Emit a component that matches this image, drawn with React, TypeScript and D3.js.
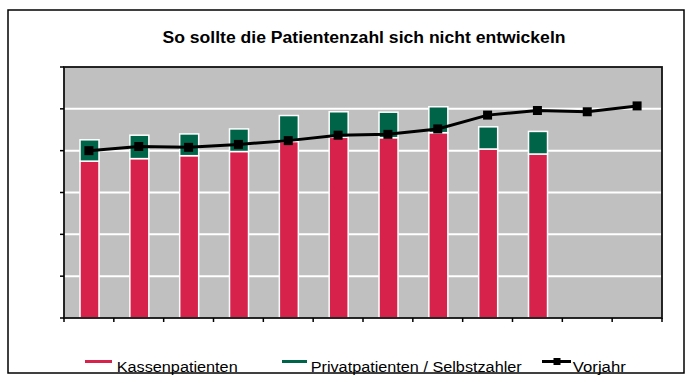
import React from "react";
import * as d3 from "d3";

const months = ["Jan", "Feb", "Mär", "Apr", "Mai", "Jun", "Jul", "Aug", "Sep", "Okt", "Nov", "Dez"];
const kassenpatienten = [375, 381, 388, 398, 422, 432, 431, 443, 404, 392];
const privatpatienten = [51, 56, 52, 54, 62, 61, 61, 62, 53, 54];
const vorjahr = [400, 410, 408, 415, 424, 437, 439, 452, 485, 496, 493, 507];
const yTicks = [0, 100, 200, 300, 400, 500, 600];

const title = "So sollte die Patientenzahl sich nicht entwickeln";
const legendLabels = ["Kassenpatienten", "Privatpatienten / Selbstzahler", "Vorjahr"];

const RED = "#D7234C";
const GREEN = "#006449";
const GRAY = "#C0C0C0";

export default function App() {
  const W = 700;
  const H = 383;
  const plot = { left: 64, right: 662, top: 67, bottom: 318 };

  const x = d3.scaleBand<string>().domain(months).range([plot.left, plot.right]).padding(0);
  const y = d3.scaleLinear().domain([0, 600]).range([plot.bottom, plot.top]);
  const barW = 19;
  const cx = (i: number) => (x(months[i]) as number) + x.bandwidth() / 2;

  const line = d3
    .line<number>()
    .x((_, i) => cx(i))
    .y((d) => y(d));

  const font = "'Liberation Sans', Arial, sans-serif";
  const boundaries = d3.range(months.length + 1).map((i) => plot.left + i * x.step());

  return (
    <svg
      width={W}
      height={H}
      style={{ position: "absolute", left: 0, top: 0, background: "#fff" }}
      fontFamily={font}
    >
      <rect x={0} y={0} width={W} height={H} fill="#fff" />
      {/* outer frame */}
      <rect x={8} y={10} width={676} height={363} fill="none" stroke="#000" strokeWidth={1.5} />

      {/* title */}
      <text
        x={364}
        y={42.7}
        textAnchor="middle"
        fontSize={16}
        fontWeight="bold"
        textLength={403}
        lengthAdjust="spacingAndGlyphs"
        fill="#000"
      >
        {title}
      </text>

      {/* plot area */}
      <rect
        x={plot.left}
        y={plot.top}
        width={plot.right - plot.left}
        height={plot.bottom - plot.top}
        fill={GRAY}
      />
      {yTicks.slice(1, -1).map((t) => (
        <line
          key={"g" + t}
          x1={plot.left}
          x2={plot.right}
          y1={y(t)}
          y2={y(t)}
          stroke="#fff"
          strokeWidth={2}
        />
      ))}

      {/* bars */}
      {kassenpatienten.map((k, i) => {
        const p = privatpatienten[i];
        const bx = cx(i) - barW / 2 + 0.6;
        return (
          <g key={"b" + i}>
            <rect
              x={bx}
              y={y(k)}
              width={barW}
              height={y(0) - y(k)}
              fill={RED}
              stroke="#fff"
              strokeWidth={1.5}
            />
            <rect
              x={bx}
              y={y(k + p)}
              width={barW}
              height={y(k) - y(k + p)}
              fill={GREEN}
              stroke="#fff"
              strokeWidth={1.5}
            />
          </g>
        );
      })}

      {/* plot border */}
      <rect
        x={plot.left}
        y={plot.top}
        width={plot.right - plot.left}
        height={plot.bottom - plot.top}
        fill="none"
        stroke="#111"
        strokeWidth={1.8}
      />
      {yTicks.map((t) => (
        <line key={"yt" + t} x1={plot.left - 4} x2={plot.left} y1={y(t)} y2={y(t)} stroke="#000" strokeWidth={1.5} />
      ))}
      {boundaries.map((bx, i) => (
        <line key={"xt" + i} x1={bx} x2={bx} y1={plot.bottom} y2={plot.bottom + 4} stroke="#000" strokeWidth={1.5} />
      ))}

      {/* Vorjahr line */}
      <path d={line(vorjahr) || ""} fill="none" stroke="#000" strokeWidth={3} />
      {vorjahr.map((v, i) => (
        <rect key={"m" + i} x={cx(i) - 4.5} y={y(v) - 4.5} width={9} height={9} fill="#000" />
      ))}

      {/* legend */}
      <line x1={85} x2={112} y1={361.5} y2={361.5} stroke={RED} strokeWidth={3} />
      <text x={116.7} y={371.7} fontSize={14} textLength={121} lengthAdjust="spacingAndGlyphs" fill="#000">
        {legendLabels[0]}
      </text>
      <line x1={282} x2={307} y1={361.5} y2={361.5} stroke={GREEN} strokeWidth={3} />
      <text x={310.7} y={371.7} fontSize={14} textLength={211} lengthAdjust="spacingAndGlyphs" fill="#000">
        {legendLabels[1]}
      </text>
      <line x1={542} x2={571} y1={361.5} y2={361.5} stroke="#000" strokeWidth={3} />
      <rect x={553.5} y={358} width={7} height={7} fill="#000" />
      <text x={572.8} y={371.7} fontSize={14} textLength={53} lengthAdjust="spacingAndGlyphs" fill="#000">
        {legendLabels[2]}
      </text>
    </svg>
  );
}
